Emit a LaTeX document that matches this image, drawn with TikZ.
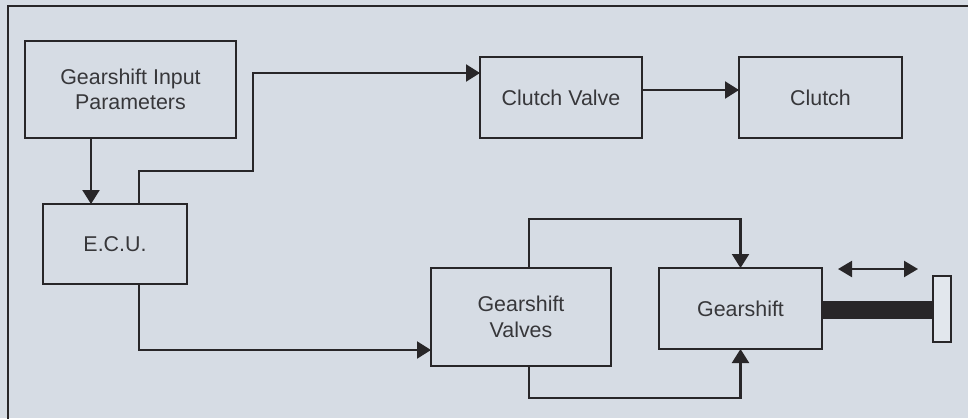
\documentclass[tikz,border=0pt]{standalone}
\usepackage{fontspec}
\setmainfont{Liberation Sans}
\usetikzlibrary{arrows.meta}
\definecolor{bgc}{RGB}{214,220,228}
\definecolor{platec}{RGB}{226,231,237}
\definecolor{linec}{RGB}{40,38,40}
\definecolor{textc}{RGB}{55,55,58}
\tikzset{
  blk/.style={draw=linec, line width=1.1pt, fill=bgc, inner sep=0pt, outer sep=0pt,
    font=\fontsize{10.7pt}{12.8pt}\selectfont, text=textc, align=center},
  arr/.style={draw=linec, line width=1.1pt, -{Triangle[length=7pt,width=8.5pt]}},
  dblarr/.style={draw=linec, line width=1.1pt, {Triangle[length=7pt,width=8pt]}-{Triangle[length=7pt,width=8pt]}}
}
\begin{document}
\begin{tikzpicture}[x=0.5pt,y=-0.5pt]
\useasboundingbox (0,0) rectangle (968,418);
\clip (0,0) rectangle (968,418);
\fill[bgc] (0,0) rectangle (968,418);
\draw[linec, line width=1.1pt] (8,6) rectangle (990,440);

\node[blk, minimum width=105.5pt, minimum height=48.5pt] (gip) at (130.5,89.5) {Gearshift Input\\Parameters};
\node[blk, minimum width=72pt, minimum height=40pt] (ecu) at (115,244) {E.C.U.};
\node[blk, minimum width=81pt, minimum height=40.5pt] (cv) at (561,97.5) {Clutch Valve};
\node[blk, minimum width=81.5pt, minimum height=40.5pt] (cl) at (820.5,97.5) {Clutch};
\node[blk, minimum width=90pt, minimum height=49pt] (gv) at (521,317) {Gearshift\\Valves};
\node[blk, minimum width=81.5pt, minimum height=40.5pt] (gs) at (740.5,308.5) {Gearshift};
\node[fill=linec, draw=linec, line width=0.5pt, inner sep=0pt, outer sep=0pt, minimum width=55.5pt, minimum height=8.5pt] (rod) at (877.5,309.5) {};
\node[blk, fill=platec, minimum width=9pt, minimum height=33pt] (plate) at (942,309) {};

\coordinate (da1) at (838,269);
\coordinate (da2) at (918,269);
\draw[dblarr] (da1) -- (da2);

\draw[arr] ([xshift=-19.75pt]gip.south) -- ([xshift=-19.75pt]gip.south |- ecu.north);
\draw[arr] ([xshift=12pt]ecu.north) -- ++(0,-33) -- ++(114,0) |- ([yshift=12.25pt]cv.west);
\draw[arr] ([yshift=3.75pt]cv.east) -- ([yshift=3.75pt]cv.east -| cl.west);
\draw[arr] ([xshift=12pt]ecu.south) |- ([yshift=-16.5pt]gv.west);
\draw[arr] ([xshift=4pt]gv.north) -- ++(0,-49) -| (gs.north);
\draw[arr] ([xshift=4pt]gv.south) -- ++(0,32) -| (gs.south);
\end{tikzpicture}
\end{document}
